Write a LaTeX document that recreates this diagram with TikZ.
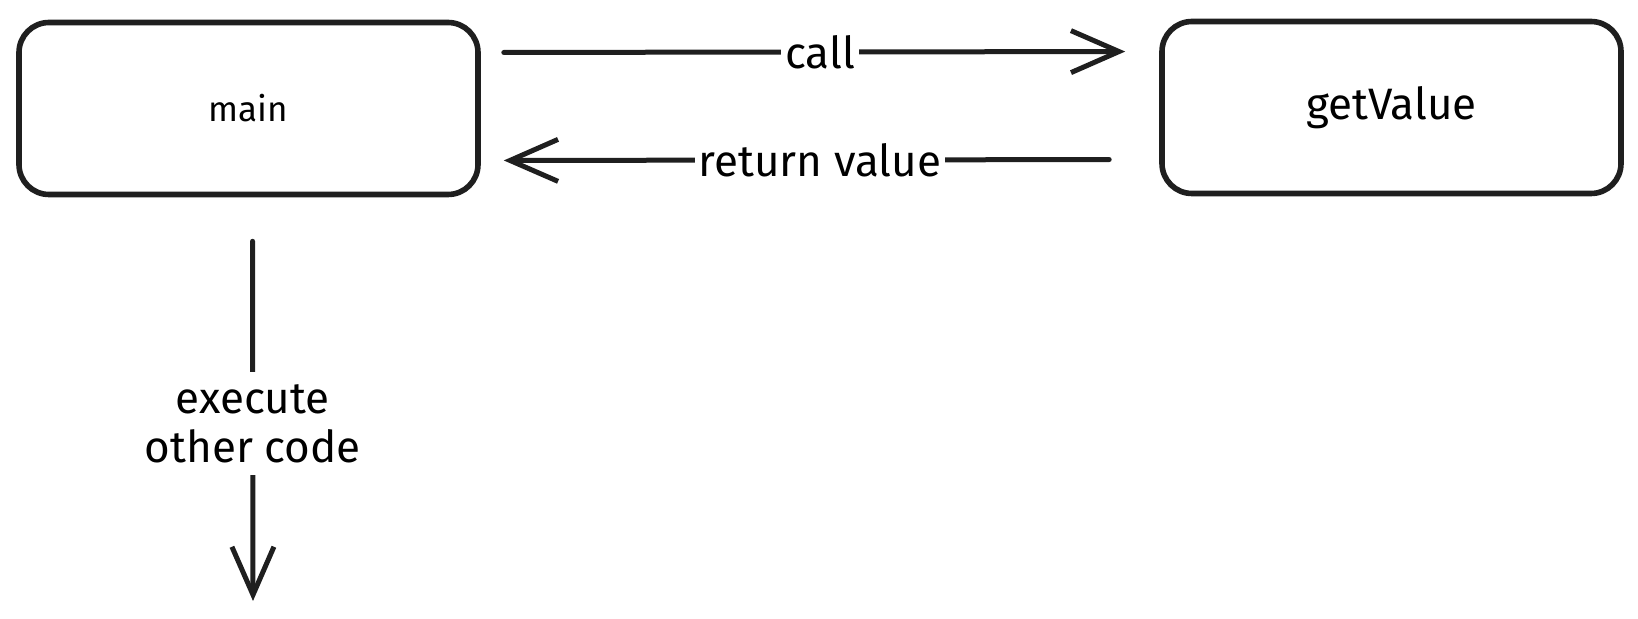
\documentclass[tikz,border=0pt]{standalone}
\usepackage{fontspec}
\setmainfont{Fira Sans}
\usepackage{tikz}
\usetikzlibrary{positioning,arrows.meta}

\begin{document}
\begin{tikzpicture}[
  x=0.5pt, y=-0.5pt,
  box/.style={draw=black!88, line width=2.8pt, rounded corners=15pt,
              minimum width=229.5pt, minimum height=86pt, fill=white},
  lbl/.style={fill=white, inner sep=2pt, align=center,
              font=\fontsize{22}{24.5}\selectfont},
  fl/.style={draw=black!88, line width=2.5pt, line cap=round,
             -{Straight Barb[length=24pt, width=21pt, line width=2.5pt]}}]
\useasboundingbox (0,0) rectangle (1638,619);
\node[box, font=\fontsize{17.5}{20}\selectfont] (main) at (248.5,108.5) {main};
\node[box, font=\fontsize{22}{24}\selectfont] (get) at (1391.5,107.5) {getValue};
\coordinate (done) at (253,601);
% call and return
\draw[fl, shorten <=11.5pt, shorten >=17pt] ([yshift=28pt]main.east) -- node[lbl] {call} ([yshift=28pt]get.west);
\draw[fl, shorten <=25pt, shorten >=11.5pt] ([yshift=-26pt]get.west) -- node[lbl] {return value} ([yshift=-26pt]main.east);
% rest of main
\draw[fl, shorten <=22pt] ([xshift=2pt]main.south) -- node[lbl, pos=0.56, inner sep=6pt] {execute\\other code} (done);
\end{tikzpicture}
\end{document}
